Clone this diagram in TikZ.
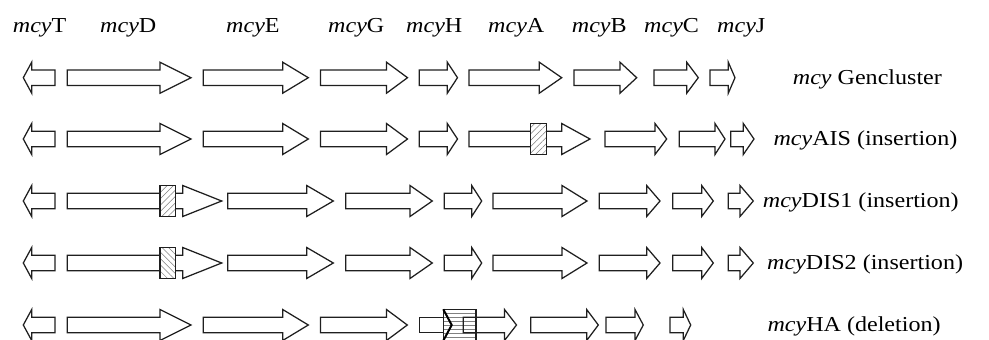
\documentclass[tikz,border=0pt]{standalone}
\usepackage{fontspec}
\setmainfont{Liberation Serif}
\usetikzlibrary{patterns.meta}
% right-pointing gene: left, head base, tip, y
\newcommand\rgene[4]{\draw[gene] (#1,#4-7.8) -- (#2,#4-7.8) -- (#2,#4-15.5) -- (#3,#4) -- (#2,#4+15.5) -- (#2,#4+7.8) -- (#1,#4+7.8) -- cycle;}
% left-pointing gene: tip, head base, right, y
\newcommand\lgene[4]{\draw[gene] (#3,#4-7.8) -- (#2,#4-7.8) -- (#2,#4-15.5) -- (#1,#4) -- (#2,#4+15.5) -- (#2,#4+7.8) -- (#3,#4+7.8) -- cycle;}
% label: name, x, baseline y, text
\newcommand\glab[4]{\node[lbl] (#1) at (#2,#3) {\scalebox{1.13}[1]{#4}};}
% insertion box: left, right, y, hatch angle
\newcommand\insbox[4]{\draw[gene, preaction={fill=white}, pattern={Lines[angle=#4,distance=4.5pt,line width=0.5pt]}, pattern color=black!50] (#1,#3-15.8) rectangle (#2,#3+15.8);}
\newcommand\leftpart[1]{\lgene{23.3}{31.7}{55}{#1}}
\begin{document}
\begin{tikzpicture}[x=1pt,y=-1pt,
  gene/.style={draw=black!88, line width=1.25pt, line join=miter, fill=white},
  lbl/.style={anchor=base west, inner sep=0pt, font=\fontsize{21.3}{24}\selectfont}]
\useasboundingbox (0,0) rectangle (989,340);

% header labels
\glab{hT}{12.7}{32.7}{\textit{mcy}T}
\glab{hD}{100}{32.7}{\textit{mcy}D}
\glab{hE}{226}{32.7}{\textit{mcy}E}
\glab{hG}{328}{32.7}{\textit{mcy}G}
\glab{hH}{406}{32.7}{\textit{mcy}H}
\glab{hA}{488}{32.7}{\textit{mcy}A}
\glab{hB}{571.7}{32.7}{\textit{mcy}B}
\glab{hC}{644}{32.7}{\textit{mcy}C}
\glab{hJ}{717}{32.7}{\textit{mcy}J}

% row 1: wild type
\leftpart{77.7}
\rgene{67.3}{160}{191}{77.7}
\rgene{203.3}{282.7}{308.3}{77.7}
\rgene{320.5}{386.5}{407.5}{77.7}
\rgene{419.3}{447.3}{457.5}{77.7}
\rgene{469}{539.3}{561.7}{77.7}
\rgene{574}{620}{636.7}{77.7}
\rgene{654}{686.7}{698.3}{77.7}
\rgene{710}{728.3}{735}{77.7}
\glab{r1}{792.7}{84.2}{\textit{mcy} Gencluster}

% row 2: mcyAIS
\leftpart{139}
\rgene{67.3}{160}{191}{139}
\rgene{203.3}{282.7}{308.3}{139}
\rgene{320.5}{386.5}{407.5}{139}
\rgene{419.3}{447.3}{457.5}{139}
\rgene{469}{561.7}{590}{139}
\insbox{530.7}{546.7}{139}{45}
\rgene{605}{655}{666.7}{139}
\rgene{679.3}{715}{725}{139}
\rgene{730.7}{743.3}{754}{139}
\glab{r2}{773.3}{145.5}{\textit{mcy}AIS (insertion)}

% row 3: mcyDIS1
\leftpart{201}
\rgene{67.3}{182.7}{221.7}{201}
\insbox{160}{175.7}{201}{45}
\rgene{227.7}{306.7}{333.3}{201}
\rgene{345.7}{410}{432.3}{201}
\rgene{444.3}{471.7}{481.7}{201}
\rgene{493}{562}{587}{201}
\rgene{599.3}{646.7}{660}{201}
\rgene{672.7}{701.7}{713.3}{201}
\rgene{728.3}{740}{753.3}{201}
\glab{r3}{762.7}{207.5}{\textit{mcy}DIS1 (insertion)}

% row 4: mcyDIS2
\leftpart{263}
\rgene{67.3}{182.7}{221.7}{263}
\insbox{160}{175.7}{263}{-45}
\rgene{227.7}{306.7}{333.3}{263}
\rgene{345.7}{410}{432.3}{263}
\rgene{444.3}{471.7}{481.7}{263}
\rgene{493}{562}{587}{263}
\rgene{599.3}{646.7}{660}{263}
\rgene{672.7}{701.7}{713.3}{263}
\rgene{728.3}{740}{753.3}{263}
\glab{r4}{767}{269.5}{\textit{mcy}DIS2 (insertion)}

% row 5: mcyHA deletion
\leftpart{325}
\rgene{67.3}{160}{191}{325}
\rgene{203.3}{282.7}{308.3}{325}
\rgene{320.5}{386.5}{407.3}{325}
\draw[gene, fill=none] (443.3,317.2) -- (419.3,317.2) -- (419.3,332.8) -- (443.3,332.8);
\foreach \hy in {313.5,317.5,...,340} {\draw[black!50, line width=0.6pt] (443.3,\hy) -- (476,\hy);}
\draw[gene, fill=none] (463.3,317.2) -- (504.5,317.2) -- (504.5,309.5) -- (516.5,325) -- (504.5,340.5) -- (504.5,332.8) -- (463.3,332.8) -- cycle;
\draw[gene, fill=none] (443.3,309.3) rectangle (476,340.7);
\draw[black, line width=2pt] (443.3,309.3) -- (451.7,325) -- (443.3,340.7);
\rgene{530.7}{586.7}{598.3}{325}
\rgene{606}{635}{643.3}{325}
\rgene{670}{683.3}{690.7}{325}
\glab{r5}{767.3}{331.5}{\textit{mcy}HA (deletion)}
\end{tikzpicture}
\end{document}
